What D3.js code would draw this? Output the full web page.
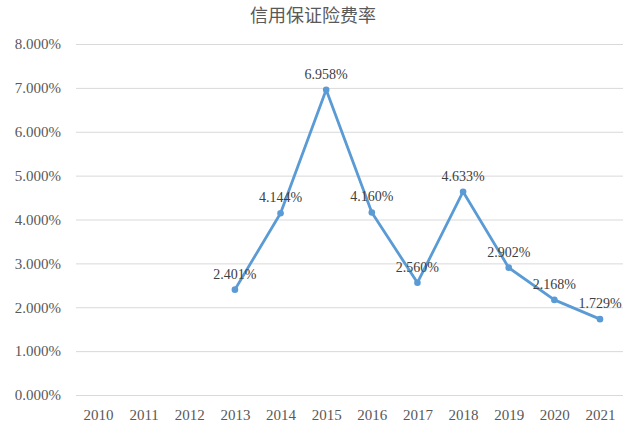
<!DOCTYPE html>
<html><head><meta charset="utf-8">
<script src="https://cdn.jsdelivr.net/npm/d3@7"></script>
<style>body{margin:0;background:#fff}svg{display:block}</style>
</head><body>
<script>
const years = ["2010","2011","2012","2013","2014","2015","2016","2017","2018","2019","2020","2021"];
const rates = [null,null,null,2.401,4.144,6.958,4.160,2.560,4.633,2.902,2.168,1.729];
const yTicks = [0,1,2,3,4,5,6,7,8];
const title = "信用保证险费率";

const W=627,H=440;
const svg=d3.select("body").append("svg").attr("width",W).attr("height",H);
const x=d3.scalePoint().domain(years).range([98,600]);
const y=d3.scaleLinear().domain([0,8]).range([395,44]);

svg.append("text").attr("x",313).attr("y",22).attr("text-anchor","middle")
  .attr("font-family","Noto Sans CJK SC").attr("font-size",18).attr("fill","#595959").text(title);

const ya=svg.append("g").attr("transform","translate(76,0)")
  .call(d3.axisLeft(y).tickValues(yTicks).tickSize(-547).tickPadding(15).tickFormat(d=>d.toFixed(3)+"%"));
ya.select(".domain").remove();
ya.selectAll("line").attr("stroke","#d9d9d9");
ya.selectAll("text").attr("font-family","Liberation Serif").attr("font-size",15).attr("fill","#595959");

const xa=svg.append("g").attr("transform","translate(0,395)")
  .call(d3.axisBottom(x).tickSize(0).tickPadding(14));
xa.select(".domain").remove();
xa.selectAll("text").attr("font-family","Liberation Serif").attr("font-size",15).attr("fill","#595959");

const data=years.map((k,i)=>({k,v:rates[i]})).filter(d=>d.v!=null);
svg.append("path").datum(data).attr("fill","none").attr("stroke","#5b9bd5").attr("stroke-width",2.8)
  .attr("stroke-linejoin","round")
  .attr("d",d3.line().x(d=>x(d.k)).y(d=>y(d.v)));
svg.selectAll("circle.pt").data(data).join("circle").attr("class","pt")
  .attr("cx",d=>x(d.k)).attr("cy",d=>y(d.v)).attr("r",3.3).attr("fill","#5b9bd5");
svg.selectAll("text.lbl").data(data).join("text").attr("class","lbl")
  .attr("x",d=>x(d.k)).attr("y",d=>y(d.v)-11).attr("text-anchor","middle")
  .attr("font-family","Liberation Serif").attr("font-size",14).attr("fill","#404040")
  .text(d=>d.v.toFixed(3)+"%");
</script>
</body></html>
